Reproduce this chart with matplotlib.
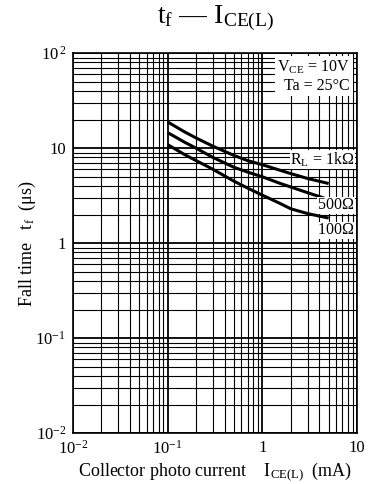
import matplotlib
matplotlib.use("Agg")
import matplotlib.pyplot as plt
from matplotlib.ticker import FixedLocator, LogLocator, NullFormatter

plt.rcParams['font.family'] = ['Liberation Serif', 'DejaVu Serif']
plt.rcParams['mathtext.fontset'] = 'custom'
plt.rcParams['mathtext.rm'] = 'Liberation Serif'
plt.rcParams['mathtext.it'] = 'Liberation Serif:italic'

# Data (I_CE(L) in mA, t_f in us)
ice_ma = [0.1, 0.15, 0.2, 0.3, 0.5, 0.7, 1.0, 1.5, 2.0, 3.0, 5.0]
tf_1k = [18.9, 14.9, 12.8, 10.5, 8.4, 7.4, 6.7, 5.9, 5.4, 4.8, 4.25]
tf_500 = [14.6, 11.6, 10.0, 8.0, 6.3, 5.6, 5.0, 4.3, 3.9, 3.4, 2.88]
tf_100 = [10.9, 8.6, 7.4, 6.0, 4.5, 3.8, 3.2, 2.65, 2.3, 2.05, 1.84]

x_ticks = [0.01, 0.1, 1, 10]
x_tick_labels = [r'$10^{-2}$', r'$10^{-1}$', '1', '10']
y_ticks = [0.01, 0.1, 1, 10, 100]
y_tick_labels = [r'$10^{-2}$', r'$10^{-1}$', '1', '10', r'$10^{\,2}$']

fig = plt.figure(figsize=(3.82, 4.84), dpi=100)
ax = fig.add_axes([0.191, 0.105, 0.744, 0.785])
ax.set_xscale('log')
ax.set_yscale('log')
ax.set_xlim(0.01, 10)
ax.set_ylim(0.01, 100)

ax.xaxis.set_major_locator(FixedLocator(x_ticks))
ax.set_xticklabels(x_tick_labels)
ax.yaxis.set_major_locator(FixedLocator(y_ticks))
ax.set_yticklabels(y_tick_labels)
ax.xaxis.set_minor_locator(LogLocator(base=10, subs=range(2, 10), numticks=20))
ax.yaxis.set_minor_locator(LogLocator(base=10, subs=range(2, 10), numticks=20))
ax.xaxis.set_minor_formatter(NullFormatter())
ax.yaxis.set_minor_formatter(NullFormatter())
ax.tick_params(which='both', length=0, labelsize=12, pad=5)
ax.grid(which='major', color='black', linewidth=1.3)
ax.grid(which='minor', color='black', linewidth=0.8)
for s in ax.spines.values():
    s.set_linewidth(1.2)

for ys in (tf_1k, tf_500, tf_100):
    ax.plot(ice_ma, ys, color='black', linewidth=2.2, solid_capstyle='butt')

bbox = dict(facecolor='white', edgecolor='none', pad=0.5)
ax.text(9.4, 7.6, r'R$_\mathregular{L}$ = 1k$\Omega$', fontsize=11.5,
        va='center', ha='right', bbox=bbox)
ax.text(9.4, 2.5, r'500$\Omega$', fontsize=11.5, va='center', ha='right', bbox=bbox)
ax.text(9.4, 1.37, r'100$\Omega$', fontsize=11.5, va='center', ha='right', bbox=bbox)

ax.text(0.975, 0.985, r'V$_\mathregular{CE}$ = 10V' + '\n' + 'Ta = 25°C', transform=ax.transAxes,
        fontsize=11.5, va='top', ha='right', linespacing=1.1,
        bbox=dict(facecolor='white', edgecolor='none', pad=2))

fig.text(0.563, 0.962, r'$\mathregular{t_f}$ — $\mathregular{I_{CE(L)}}$', ha='center', va='center', fontsize=20)
ax.set_xlabel(r'Collector photo current    I$_\mathregular{CE(L)}$  (mA)', fontsize=13, labelpad=2)
ax.set_ylabel(r'Fall time   t$_\mathregular{f}$  (μs)', fontsize=13, labelpad=-2)

fig.savefig('out.png', dpi=100)
